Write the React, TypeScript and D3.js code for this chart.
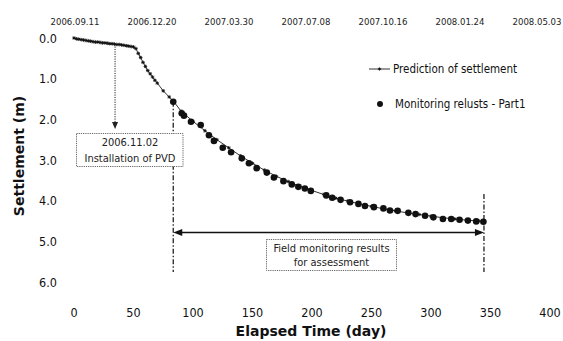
import React from "react";
import * as d3 from "d3";

const W = 563;
const H = 341;

// Prediction of settlement (day, settlement m)
const predDays = [0, 2, 4, 6, 8, 10, 12, 14, 16, 18, 20, 22, 24, 26, 28, 30, 32, 34, 36, 38, 40, 42, 44, 46, 48, 50, 52, 54, 56, 58, 60, 62, 64, 66, 68, 70, 75, 80, 84, 90, 100, 110, 120, 130, 140, 150, 160, 170, 180, 190, 200, 210, 220, 230, 240, 250, 260, 270, 280, 290, 300, 310, 320, 330, 340, 345];
const predValues = [0.0, 0.02, 0.03, 0.04, 0.05, 0.06, 0.07, 0.08, 0.09, 0.1, 0.1, 0.11, 0.12, 0.12, 0.13, 0.14, 0.14, 0.15, 0.16, 0.16, 0.17, 0.18, 0.19, 0.2, 0.21, 0.22, 0.26, 0.38, 0.48, 0.6, 0.7, 0.8, 0.88, 0.96, 1.04, 1.11, 1.3, 1.45, 1.57, 1.8, 2.05, 2.28, 2.5, 2.7, 2.9, 3.08, 3.25, 3.4, 3.53, 3.65, 3.75, 3.85, 3.94, 4.01, 4.08, 4.14, 4.2, 4.25, 4.3, 4.34, 4.38, 4.42, 4.45, 4.48, 4.5, 4.52];

// Monitoring results - Part1
const monDays = [83.4, 90.5, 92.4, 98.3, 106.5, 113.4, 117.6, 125, 132, 141, 147, 153.5, 162, 168, 176, 183, 188.5, 194, 199, 212, 217, 224, 232, 239, 244.5, 252, 260, 265.5, 272, 281, 287, 295, 302, 310, 317, 324, 331, 338, 344];
const monValues = [1.57, 1.85, 1.91, 2.06, 2.14, 2.39, 2.53, 2.7, 2.81, 2.96, 3.08, 3.2, 3.31, 3.43, 3.52, 3.6, 3.66, 3.7, 3.76, 3.87, 3.93, 3.98, 4.04, 4.08, 4.13, 4.16, 4.19, 4.24, 4.25, 4.3, 4.33, 4.37, 4.41, 4.45, 4.45, 4.47, 4.49, 4.51, 4.52];

const xTicks = [0, 50, 100, 150, 200, 250, 300, 350, 400];
const yTicks = [0, 1, 2, 3, 4, 5, 6];
const topDateLabels = ["2006.09.11", "2006.12.20", "2007.03.30", "2007.07.08", "2007.10.16", "2008.01.24", "2008.05.03"];
const topDateDays = [0, 100, 200, 300, 400, 500, 600];

const pvdDay = 34.5;
const monStartDay = 83.4;
const monEndDay = 344.5;

const FONT = "'DejaVu Sans Condensed', 'DejaVu Sans', sans-serif";
const BOLD = "'DejaVu Sans', Verdana, sans-serif";

export default function App() {
  const x = d3.scaleLinear().domain([0, 400]).range([74, 550]);
  const y = d3.scaleLinear().domain([0, 6]).range([38, 282]);
  const xTop = d3.scaleLinear().domain([0, 600]).range([75, 537]);

  const pred = predDays.map((d, i) => [d, predValues[i]] as [number, number]);
  const mon = monDays.map((d, i) => [d, monValues[i]] as [number, number]);

  const line = d3
    .line<[number, number]>()
    .x((p) => x(p[0]))
    .y((p) => y(p[1]));

  const arrowY = 232.5;
  const xs = x(monStartDay);
  const xe = x(monEndDay);
  const xp = x(pvdDay);

  const star = (cx: number, cy: number, k: string, s = 1.8) => (
    <g key={k} stroke="#111" strokeWidth={0.9}>
      <line x1={cx - s} y1={cy} x2={cx + s} y2={cy} />
      <line x1={cx} y1={cy - s} x2={cx} y2={cy + s} />
      <line x1={cx - s * 0.7} y1={cy - s * 0.7} x2={cx + s * 0.7} y2={cy + s * 0.7} />
      <line x1={cx - s * 0.7} y1={cy + s * 0.7} x2={cx + s * 0.7} y2={cy - s * 0.7} />
    </g>
  );

  return (
    <svg width={W} height={H} style={{ position: "absolute", left: 0, top: 0, background: "#fff" }}>
      <rect width={W} height={H} fill="#fff" />
      {/* top date labels */}
      {topDateLabels.map((t, i) => (
        <text key={t} x={xTop(topDateDays[i])} y={25} fontSize={9.5} fontFamily={FONT} textAnchor="middle" fill="#222">
          {t}
        </text>
      ))}
      {/* y ticks */}
      {yTicks.map((t) => (
        <text key={t} x={57} y={y(t)} dy="0.36em" fontSize={12.5} fontFamily={FONT} textAnchor="end" fill="#111">
          {t.toFixed(1)}
        </text>
      ))}
      {/* x ticks */}
      {xTicks.map((t) => (
        <text key={t} x={x(t)} y={317} fontSize={12.5} fontFamily={FONT} textAnchor="middle" fill="#111">
          {t}
        </text>
      ))}
      {/* axis titles */}
      <text x={311} y={336} fontSize={14} fontWeight="bold" fontFamily={BOLD} textAnchor="middle" fill="#111">
        Elapsed Time (day)
      </text>
      <text transform={`translate(24,156) rotate(-90)`} fontSize={14} fontWeight="bold" fontFamily={BOLD} textAnchor="middle" fill="#111">
        Settlement (m)
      </text>

      {/* PVD dotted arrow */}
      <line x1={xp} y1={y(0.16) + 2} x2={xp} y2={126} stroke="#222" strokeWidth={1} strokeDasharray="1.2,1.2" />
      <path d={`M${xp - 3},${122} L${xp + 3},${122} L${xp},${129} Z`} fill="#222" />

      {/* monitoring dash-dot lines */}
      <line x1={xs} y1={y(1.57)} x2={xs} y2={272} stroke="#222" strokeWidth={1.3} strokeDasharray="5,2,1.5,2" />
      <line x1={xe} y1={194} x2={xe} y2={272} stroke="#222" strokeWidth={1.3} strokeDasharray="5,2,1.5,2" />

      {/* double arrow */}
      <line x1={xs + 6} y1={arrowY} x2={xe - 6} y2={arrowY} stroke="#111" strokeWidth={1.6} />
      <path d={`M${xs},${arrowY} L${xs + 9},${arrowY - 3.5} L${xs + 9},${arrowY + 3.5} Z`} fill="#111" />
      <path d={`M${xe},${arrowY} L${xe - 9},${arrowY - 3.5} L${xe - 9},${arrowY + 3.5} Z`} fill="#111" />

      {/* PVD box */}
      <rect x={76.5} y={133.5} width={106.5} height={33} fill="#fff" stroke="#555" strokeWidth={0.9} strokeDasharray="1.2,1" />
      <text x={130} y={145.5} fontSize={11} fontFamily={FONT} textAnchor="middle" fill="#222">
        2006.11.02
      </text>
      <text x={130} y={161.5} fontSize={11} fontFamily={FONT} textAnchor="middle" fill="#222">
        Installation of PVD
      </text>

      {/* Field monitoring box */}
      <rect x={266.5} y={239.5} width={130} height={31} fill="#fff" stroke="#555" strokeWidth={0.9} strokeDasharray="1.2,1" />
      <text x={331.5} y={252} fontSize={11} fontFamily={FONT} textAnchor="middle" fill="#222">
        Field monitoring results
      </text>
      <text x={331.5} y={266} fontSize={11} fontFamily={FONT} textAnchor="middle" fill="#222">
        for assessment
      </text>

      {/* prediction line */}
      <path d={line(pred) || ""} fill="none" stroke="#333" strokeWidth={1} />
      {pred.map((p, i) => star(x(p[0]), y(p[1]), "s" + i))}

      {/* monitoring dots */}
      {mon.map((p, i) => (
        <circle key={"m" + i} cx={x(p[0])} cy={y(p[1])} r={3.3} fill="#111" />
      ))}

      {/* legend */}
      <line x1={369} y1={69} x2={390} y2={69} stroke="#333" strokeWidth={1} />
      {star(379.5, 69, "legstar", 1.6)}
      <text x={393} y={69} dy="0.36em" fontSize={11.5} fontFamily={FONT} fill="#111">
        Prediction of settlement
      </text>
      <circle cx={380} cy={104} r={3} fill="#111" />
      <text x={395} y={104} dy="0.36em" fontSize={11.5} fontFamily={FONT} fill="#111">
        Monitoring relusts - Part1
      </text>
    </svg>
  );
}
